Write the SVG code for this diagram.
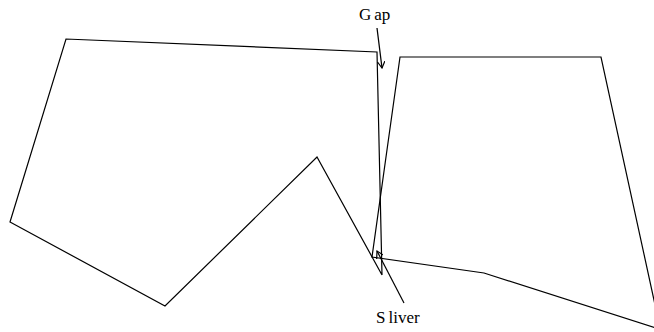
<svg xmlns="http://www.w3.org/2000/svg" width="654" height="332" viewBox="0 0 654 332">
<style>
.edge{fill:none;stroke:#000;stroke-width:1.2}
.lbl{font-family:"Liberation Serif","Times New Roman",serif;font-size:17px;fill:#000}
</style>
<defs>
<marker id="ah" markerWidth="8" markerHeight="8" refX="7" refY="4" orient="auto" markerUnits="userSpaceOnUse">
<path d="M0,0 L7,4 L0,8" fill="none" stroke="#000" stroke-width="1.2"/>
</marker>
</defs>
<rect width="654" height="332" fill="#fff"/>
<g id="left-polygon">
<polyline class="edge" points="382,275 377,52 66,39 10,222 165,306 317,157 382,275"/>
</g>
<g id="right-polygon">
<polyline class="edge" points="659,323 601,57 400,57 372,257 484,273 659,329"/>
</g>
<g id="connectors">
<line class="edge" x1="377" y1="28" x2="382" y2="68" marker-end="url(#ah)"/>
<line class="edge" x1="404" y1="303" x2="377" y2="251" marker-end="url(#ah)"/>
</g>
<g id="label-gap">
<text class="lbl" x="359" y="20">G<tspan dx="3">ap</tspan></text>
</g>
<g id="label-sliver">
<text class="lbl" x="376" y="323">S<tspan dx="3">liver</tspan></text>
</g>
</svg>
